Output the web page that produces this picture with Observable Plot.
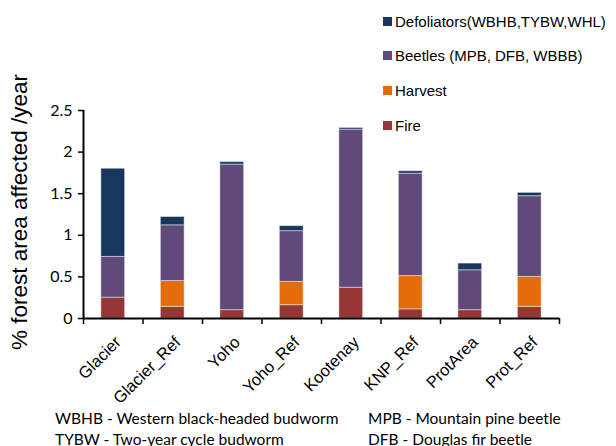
<!DOCTYPE html>
<html><head><meta charset="utf-8">
<script src="https://cdn.jsdelivr.net/npm/d3@7"></script>
<script src="https://cdn.jsdelivr.net/npm/@observablehq/plot@0.6"></script>
<style>
body{margin:0;background:#fff;}
#wrap{position:relative;width:616px;height:446px;overflow:hidden;background:#fff;}
#wrap svg{position:absolute;left:0;top:0;}
.lg{position:absolute;left:383px;font:15px "Liberation Sans",Arial,sans-serif;color:#000;white-space:nowrap;display:flex;align-items:center;}
.lg i{display:inline-block;width:9px;height:9px;margin-right:3px;}
.note{position:absolute;font:15.5px Lato,sans-serif;color:#000;white-space:nowrap;line-height:20px;}
#ylab{position:absolute;left:20px;top:212px;transform:translate(-50%,-50%) rotate(-90deg);font:22.5px "Liberation Sans",Arial,sans-serif;white-space:nowrap;color:#000;}
</style></head><body><div id="wrap"></div>
<script>
const categories = ["Glacier","Glacier_Ref","Yoho","Yoho_Ref","Kootenay","KNP_Ref","ProtArea","Prot_Ref"];
const seriesNames = ["Fire","Harvest","Beetles (MPB, DFB, WBBB)","Defoliators(WBHB,TYBW,WHL)"];
const fire        = [0.25, 0.14, 0.10, 0.16, 0.37, 0.11, 0.10, 0.14];
const harvest     = [0.00, 0.31, 0.00, 0.28, 0.00, 0.40, 0.00, 0.36];
const beetles     = [0.49, 0.67, 1.75, 0.61, 1.90, 1.23, 0.48, 0.97];
const defoliators = [1.06, 0.10, 0.03, 0.06, 0.02, 0.03, 0.08, 0.04];
const seriesColors = ["#953735","#E46C0A","#604A7B","#17375E"];
const yTicks = [0, 0.5, 1, 1.5, 2, 2.5];
const yLabel = "% forest area affected /year";
const notesLeft = ["WBHB - Western black-headed budworm","TYBW - Two-year cycle budworm"];
const notesRight = ["MPB - Mountain pine beetle","DFB - Douglas fir beetle"];

const values = [fire, harvest, beetles, defoliators];
const rows = [];
categories.forEach((c, i) => {
  seriesNames.forEach((s, k) => rows.push({cat: c, i, series: s, value: values[k][i]}));
});

const chart = Plot.plot({
  width: 616, height: 400,
  marginTop: 110, marginBottom: 82, marginLeft: 83, marginRight: 57,
  x: {type: "linear", domain: [0, categories.length], axis: null},
  y: {domain: [0, 2.5], axis: null},
  color: {domain: seriesNames, range: seriesColors},
  style: {background: "#fff", color: "#000", overflow: "visible"},
  marks: [
    Plot.rectY(rows, {x1: d => d.i + 0.3, x2: d => d.i + 0.7, y: "value", fill: "series",
      stroke: "#fff", strokeOpacity: 0.45, strokeWidth: 1}),
    Plot.axisY(yTicks, {tickSize: 5, tickPadding: 6, tickFormat: d => String(d),
      fontSize: 16, fontFamily: "Lato", strokeWidth: 1.5, stroke: "#000", label: null}),
    Plot.axisX(d3.range(categories.length + 1), {tickSize: 6, tickFormat: () => "",
      strokeWidth: 1.5, stroke: "#000", label: null}),
    Plot.text(categories, {x: (d, i) => i + 0.5, frameAnchor: "bottom", text: d => d,
      rotate: -45, textAnchor: "end", lineAnchor: "middle", dx: 5, dy: 21,
      fontSize: 16.5, fontFamily: "Liberation Sans", fill: "#000"}),
    Plot.ruleY([0], {strokeWidth: 2, stroke: "#000"}),
    Plot.ruleX([0], {strokeWidth: 2, stroke: "#000"})
  ]
});

const wrap = document.getElementById("wrap");
wrap.appendChild(chart);

// legend (top to bottom: reverse stack order)
[...seriesNames].reverse().forEach((s, j) => {
  const k = seriesNames.indexOf(s);
  const d = document.createElement("div");
  d.className = "lg";
  d.style.top = (21 + j * 34.8 - 9) + "px";
  d.style.height = "18px";
  d.innerHTML = `<i style="background:${seriesColors[k]}"></i><span></span>`;
  d.querySelector("span").textContent = s;
  wrap.appendChild(d);
});

const yl = document.createElement("div");
yl.id = "ylab"; yl.textContent = yLabel; wrap.appendChild(yl);

notesLeft.forEach((t, j) => {
  const d = document.createElement("div");
  d.className = "note"; d.textContent = t;
  d.style.left = "55px"; d.style.top = (408 + j * 21) + "px";
  wrap.appendChild(d);
});
notesRight.forEach((t, j) => {
  const d = document.createElement("div");
  d.className = "note"; d.textContent = t;
  d.style.left = "368px"; d.style.top = (408 + j * 21) + "px";
  wrap.appendChild(d);
});
</script></body></html>
